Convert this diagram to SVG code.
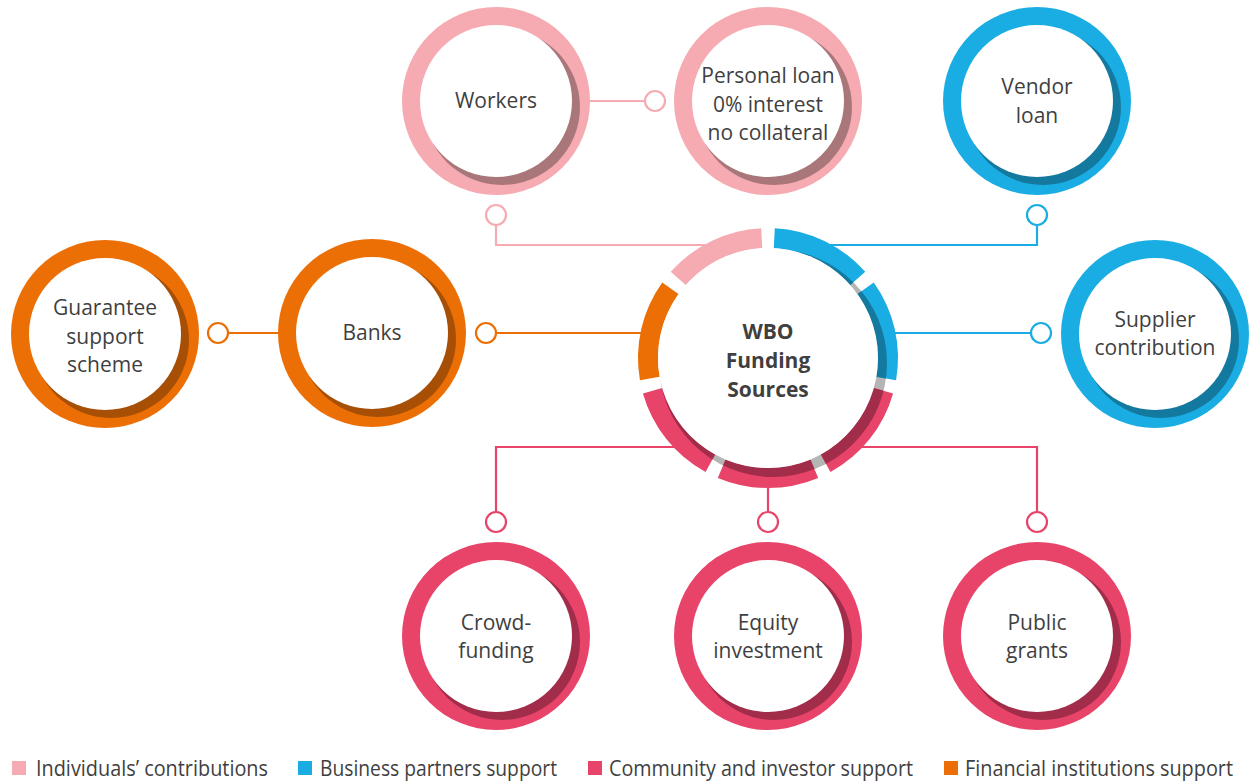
<svg xmlns="http://www.w3.org/2000/svg" width="1249" height="783" viewBox="0 0 1249 783">
  <style>
    .lbl { font-family: "Open Sans", "Noto Sans", sans-serif; font-size: 21px; fill: #3f3f3f; text-anchor: middle; }
    .hubtxt { font-weight: 700; }
    .leg { font-family: "Open Sans", "Noto Sans", sans-serif; font-size: 21px; fill: #3f3f3f; }
    .ln { fill: none; stroke-width: 2.2; }
    .dot { fill: #ffffff; stroke-width: 2.2; }
    .white { fill: #ffffff; }
    .pk { fill: #f5abb1; } .pk-d { fill: #a9777a; } .pk-s { stroke: #f5abb1; }
    .bl { fill: #1aade3; } .bl-d { fill: #14799f; } .bl-s { stroke: #1aade3; }
    .rd { fill: #e8446a; } .rd-d { fill: #a22d4a; } .rd-s { stroke: #e8446a; }
    .or { fill: #ec6f06; } .or-d { fill: #a64f05; } .or-s { stroke: #ec6f06; }
    .seg { fill: none; stroke-width: 20; }
  </style>
  <defs>
    <clipPath id="hubShade">
      <circle cx="773" cy="363" r="114"/>
    </clipPath>
  </defs>

  <rect width="1249" height="783" fill="#ffffff"/>

  <!-- connectors -->
  <g id="connectors">
    <path class="ln pk-s" d="M590 101 H645"/>
    <circle class="dot pk-s" cx="655" cy="101" r="10"/>
    <path class="ln pk-s" d="M496 225 V245 H715"/>
    <circle class="dot pk-s" cx="496" cy="215" r="10"/>

    <path class="ln bl-s" d="M1037 225 V245 H820"/>
    <circle class="dot bl-s" cx="1037" cy="215" r="10"/>
    <path class="ln bl-s" d="M886 333 H1031"/>
    <circle class="dot bl-s" cx="1041" cy="333" r="10"/>

    <path class="ln or-s" d="M228 333 H285"/>
    <circle class="dot or-s" cx="218" cy="333" r="10"/>
    <path class="ln or-s" d="M496 333 H650"/>
    <circle class="dot or-s" cx="486" cy="333" r="10"/>

    <path class="ln rd-s" d="M496 512 V447 H680"/>
    <circle class="dot rd-s" cx="496" cy="522" r="10"/>
    <path class="ln rd-s" d="M768 512 V480"/>
    <circle class="dot rd-s" cx="768" cy="522" r="10"/>
    <path class="ln rd-s" d="M1037 512 V447 H856"/>
    <circle class="dot rd-s" cx="1037" cy="522" r="10"/>
  </g>

  <!-- outer nodes -->
  <g id="workers">
    <circle class="pk" cx="496" cy="101" r="94"/>
    <circle class="pk-d" cx="502" cy="107" r="78"/>
    <circle class="white" cx="496" cy="101" r="76"/>
    <text class="lbl" x="496" y="108">Workers</text>
  </g>
  <g id="personal-loan">
    <circle class="pk" cx="768" cy="101" r="94"/>
    <circle class="pk-d" cx="774" cy="107" r="78"/>
    <circle class="white" cx="768" cy="101" r="76"/>
    <text class="lbl" x="768" y="83">Personal loan</text>
    <text class="lbl" x="768" y="112">0% interest</text>
    <text class="lbl" x="768" y="140">no collateral</text>
  </g>
  <g id="vendor-loan">
    <circle class="bl" cx="1037" cy="101" r="94"/>
    <circle class="bl-d" cx="1043" cy="107" r="78"/>
    <circle class="white" cx="1037" cy="101" r="76"/>
    <text class="lbl" x="1037" y="94">Vendor</text>
    <text class="lbl" x="1037" y="123">loan</text>
  </g>
  <g id="guarantee">
    <circle class="or" cx="105" cy="334" r="94"/>
    <circle class="or-d" cx="111" cy="340" r="78"/>
    <circle class="white" cx="105" cy="334" r="76"/>
    <text class="lbl" x="105" y="315">Guarantee</text>
    <text class="lbl" x="105" y="344">support</text>
    <text class="lbl" x="105" y="372">scheme</text>
  </g>
  <g id="banks">
    <circle class="or" cx="372" cy="333" r="94"/>
    <circle class="or-d" cx="378" cy="339" r="78"/>
    <circle class="white" cx="372" cy="333" r="76"/>
    <text class="lbl" x="372" y="340">Banks</text>
  </g>
  <g id="supplier">
    <circle class="bl" cx="1155" cy="334" r="94"/>
    <circle class="bl-d" cx="1161" cy="340" r="78"/>
    <circle class="white" cx="1155" cy="334" r="76"/>
    <text class="lbl" x="1155" y="327">Supplier</text>
    <text class="lbl" x="1155" y="355">contribution</text>
  </g>
  <g id="crowdfunding">
    <circle class="rd" cx="496" cy="636" r="94"/>
    <circle class="rd-d" cx="502" cy="642" r="78"/>
    <circle class="white" cx="496" cy="636" r="76"/>
    <text class="lbl" x="496" y="630">Crowd-</text>
    <text class="lbl" x="496" y="658">funding</text>
  </g>
  <g id="equity">
    <circle class="rd" cx="768" cy="636" r="94"/>
    <circle class="rd-d" cx="774" cy="642" r="78"/>
    <circle class="white" cx="768" cy="636" r="76"/>
    <text class="lbl" x="768" y="630">Equity</text>
    <text class="lbl" x="768" y="658">investment</text>
  </g>
  <g id="public-grants">
    <circle class="rd" cx="1037" cy="636" r="94"/>
    <circle class="rd-d" cx="1043" cy="642" r="78"/>
    <circle class="white" cx="1037" cy="636" r="76"/>
    <text class="lbl" x="1037" y="630">Public</text>
    <text class="lbl" x="1037" y="658">grants</text>
  </g>

  <!-- central hub: segmented ring with inner shading -->
  <g id="hub">
    <circle cx="773" cy="363" r="114" fill="#b5b5b5"/>
    <g id="hub-ring">
      <path class="seg" stroke="#f5abb1" d="M678.23 278.38 A120 120 0 0 1 761.72 238.16"/>
      <path class="seg" stroke="#1aade3" d="M774.28 238.16 A120 120 0 0 1 857.77 278.38"/>
      <path class="seg" stroke="#1aade3" d="M865.62 288.20 A120 120 0 0 1 886.22 378.54"/>
      <path class="seg" stroke="#e8446a" d="M883.44 390.78 A120 120 0 0 1 825.65 463.24"/>
      <path class="seg" stroke="#e8446a" d="M814.33 468.70 A120 120 0 0 1 721.67 468.70"/>
      <path class="seg" stroke="#e8446a" d="M710.35 463.24 A120 120 0 0 1 652.56 390.78"/>
      <path class="seg" stroke="#ec6f06" d="M649.78 378.54 A120 120 0 0 1 670.38 288.20"/>
    </g>
    <g id="hub-shade" clip-path="url(#hubShade)">
      <path class="seg" stroke="#a9777a" d="M678.23 278.38 A120 120 0 0 1 761.72 238.16"/>
      <path class="seg" stroke="#14799f" d="M774.28 238.16 A120 120 0 0 1 857.77 278.38"/>
      <path class="seg" stroke="#14799f" d="M865.62 288.20 A120 120 0 0 1 886.22 378.54"/>
      <path class="seg" stroke="#a22d4a" d="M883.44 390.78 A120 120 0 0 1 825.65 463.24"/>
      <path class="seg" stroke="#a22d4a" d="M814.33 468.70 A120 120 0 0 1 721.67 468.70"/>
      <path class="seg" stroke="#a22d4a" d="M710.35 463.24 A120 120 0 0 1 652.56 390.78"/>
      <path class="seg" stroke="#a64f05" d="M649.78 378.54 A120 120 0 0 1 670.38 288.20"/>
    </g>
    <circle class="white" cx="768" cy="358" r="110"/>
    <text class="lbl hubtxt" x="768" y="339">WBO</text>
    <text class="lbl hubtxt" x="768" y="368">Funding</text>
    <text class="lbl hubtxt" x="768" y="397">Sources</text>
  </g>

  <!-- legend -->
  <g id="legend">
    <rect class="pk" x="12" y="761" width="14" height="14"/>
    <text class="leg" x="36" y="776" textLength="232" lengthAdjust="spacingAndGlyphs">Individuals’ contributions</text>
    <rect class="bl" x="298" y="761" width="14" height="14"/>
    <text class="leg" x="320" y="776" textLength="237" lengthAdjust="spacingAndGlyphs">Business partners support</text>
    <rect class="rd" x="588" y="761" width="14" height="14"/>
    <text class="leg" x="609" y="776" textLength="304" lengthAdjust="spacingAndGlyphs">Community and investor support</text>
    <rect class="or" x="944" y="761" width="14" height="14"/>
    <text class="leg" x="965" y="776" textLength="268" lengthAdjust="spacingAndGlyphs">Financial institutions support</text>
  </g>
</svg>
